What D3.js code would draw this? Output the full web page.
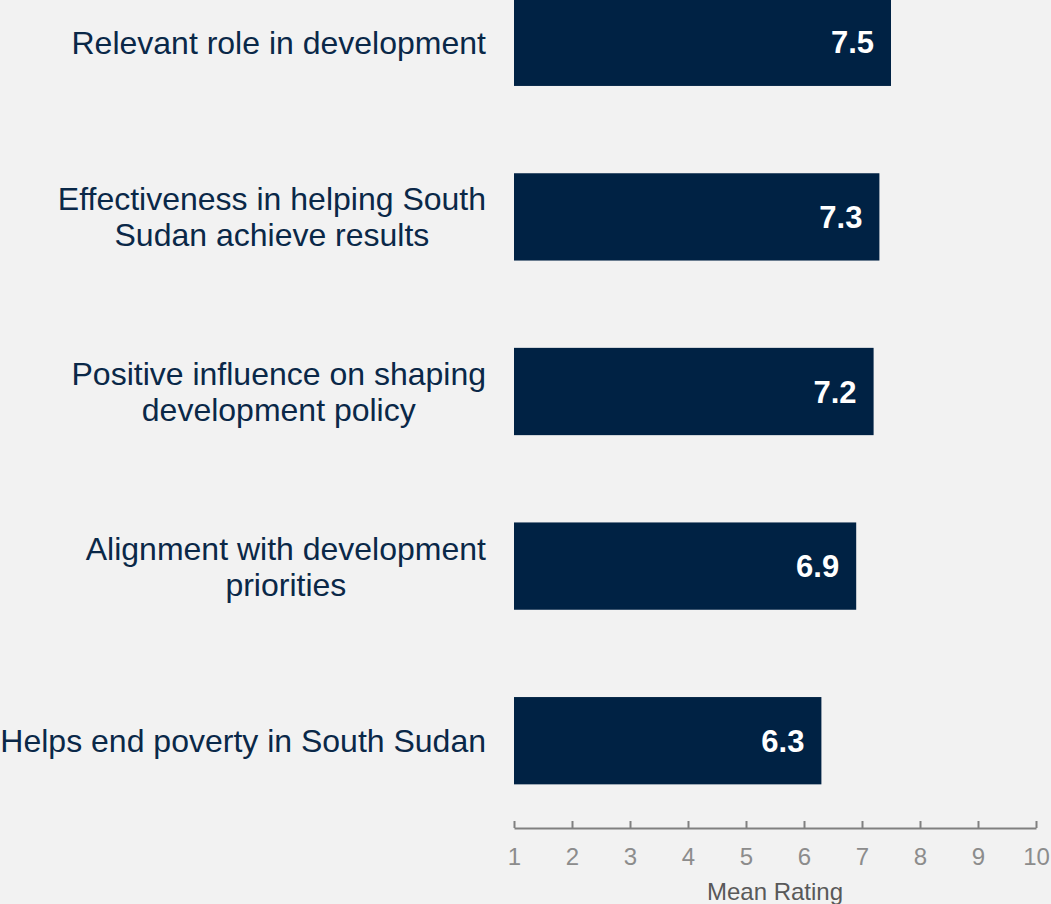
<!DOCTYPE html>
<html>
<head>
<meta charset="utf-8">
<script src="https://cdn.jsdelivr.net/npm/d3@7"></script>
<style>
  body { margin: 0; background: #f2f2f2; }
  svg { display: block; font-family: Arial, "Liberation Sans", sans-serif; }
</style>
</head>
<body>
<div id="container"></div>
<script>
// chart data
const categories = [
    ["Relevant role in development"],
    ["Effectiveness in helping South", "Sudan achieve results"],
    ["Positive influence on shaping", "development policy"],
    ["Alignment with development", "priorities"],
    ["Helps end poverty in South Sudan"]
];
const values = [7.5, 7.3, 7.2, 6.9, 6.3];
const tickValues = [1, 2, 3, 4, 5, 6, 7, 8, 9, 10];
const axisTitle = "Mean Rating";

const width = 1051, height = 904;
const fontFamily = "Arial, 'Liberation Sans', sans-serif";

const svg = d3.select("#container")
    .append("svg")
    .attr("width", width)
    .attr("height", height);

svg.append("rect")
    .attr("width", width)
    .attr("height", height)
    .attr("fill", "#f2f2f2");

// scales
const x = d3.scaleLinear()
    .domain([1, 10])
    .range([514, 1036]);

const y = d3.scaleBand()
    .domain(d3.range(values.length))
    .range([-45, 828])
    .paddingInner(0.5)
    .paddingOuter(0.25);

// bars
svg.append("g")
    .selectAll("rect")
    .data(values)
    .join("rect")
        .attr("x", x(1))
        .attr("y", (d, i) => y(i))
        .attr("width", d => x(d) - x(1))
        .attr("height", y.bandwidth())
        .attr("fill", "#002244");

// value labels inside bars
svg.append("g")
    .selectAll("text")
    .data(values)
    .join("text")
        .attr("x", d => x(d) - 17)
        .attr("y", (d, i) => y(i) + y.bandwidth() / 2)
        .attr("dy", "0.36em")
        .attr("text-anchor", "end")
        .attr("fill", "#ffffff")
        .attr("font-weight", "bold")
        .attr("font-family", fontFamily)
        .attr("font-size", 31)
        .text(d => d.toFixed(1));

// category labels, centered lines
const lineH = 36;
const catLabels = svg.append("g")
    .selectAll("text")
    .data(categories)
    .join("text")
        .attr("text-anchor", "middle")
        .attr("fill", "#0a2848")
        .attr("font-family", fontFamily)
        .attr("font-size", 32)
        .attr("y", (d, i) => y(i) + y.bandwidth() / 2 - (d.length - 1) * lineH / 2);

catLabels.each(function(lines) {
    const t = d3.select(this);
    t.selectAll("tspan")
        .data(lines)
        .join("tspan")
            .attr("x", 0)
            .attr("dy", (l, j) => j === 0 ? "0.36em" : lineH)
            .text(l => l);
    // right edge of the block at x=486, lines centered within it
    const w = this.getBBox().width;
    t.selectAll("tspan").attr("x", 486 - w / 2);
});

// x axis, ticks pointing up
const axis = svg.append("g")
    .attr("transform", `translate(0,${y.range()[1]})`)
    .call(d3.axisTop(x)
        .tickValues(tickValues)
        .tickSize(7)
        .tickSizeOuter(0)
        .tickFormat(d3.format("d")));

axis.select(".domain").attr("stroke", "#808080").attr("stroke-width", 2);
axis.selectAll(".tick line").attr("stroke", "#808080").attr("stroke-width", 2);
axis.selectAll(".tick text")
    .attr("y", 37)
    .attr("dy", 0)
    .attr("fill", "#8c8c8c")
    .attr("font-size", 24)
    .attr("font-family", fontFamily);

svg.append("text")
    .attr("x", (x.range()[0] + x.range()[1]) / 2)
    .attr("y", 900)
    .attr("text-anchor", "middle")
    .attr("fill", "#595959")
    .attr("font-family", fontFamily)
    .attr("font-size", 24)
    .text(axisTitle);
</script>
</body>
</html>
